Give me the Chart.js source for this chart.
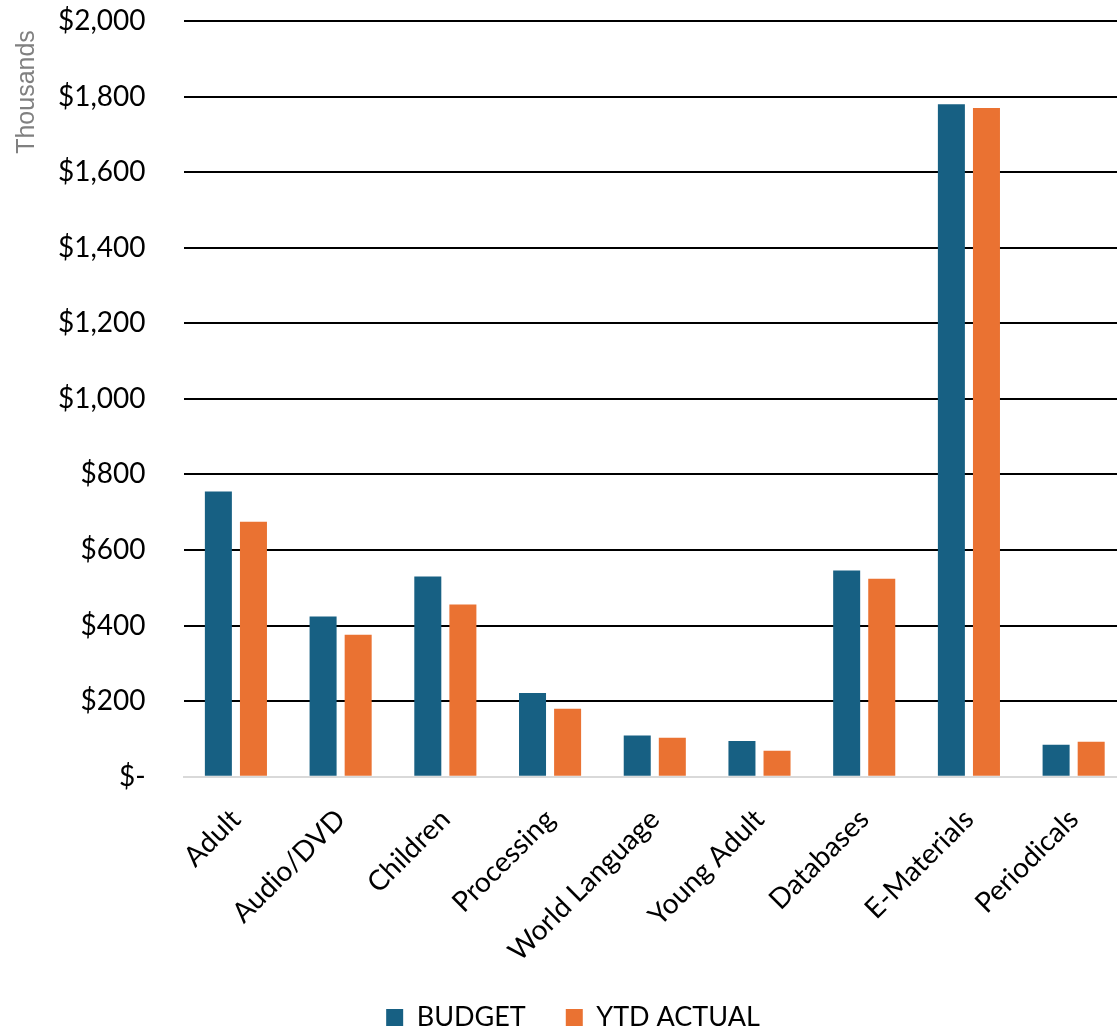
<!DOCTYPE html>
<html>
<head>
<meta charset="utf-8">
<script src="https://cdn.jsdelivr.net/npm/chart.js@4.4.1/dist/chart.umd.min.js"></script>
<style>
  html, body { margin: 0; padding: 0; background: #fff; overflow: hidden; }
  #wrap { width: 1126px; height: 1032px; }
</style>
</head>
<body>
<div id="wrap"><canvas id="budgetChart"></canvas></div>
<script>
/* collection budget vs ytd actual (thousands) */

const categories = ["Adult", "Audio/DVD", "Children", "Processing", "World Language",
  "Young Adult", "Databases", "E-Materials", "Periodicals"];
const budget = [755, 424, 530, 222, 109, 95, 546, 1780, 85];
const ytdActual = [675, 376, 456, 180, 103, 69, 524, 1770, 93];
const yTicks = [0, 200, 400, 600, 800, 1000, 1200, 1400, 1600, 1800, 2000];

const FONT = "Lato, 'Open Sans', sans-serif";
const LEGEND_GAP = 40;

// "Thousands" label sits near the top of the value axis
const unitLabel = {
  id: "unitLabel",
  afterDraw(chart) {
    const ctx = chart.ctx;
    ctx.save();
    ctx.translate(27, chart.chartArea.top + 71);
    ctx.rotate(-Math.PI / 2);
    ctx.font = "25px 'Liberation Sans', Arial, sans-serif";
    ctx.fillStyle = "#808080";
    ctx.textAlign = "center";
    ctx.textBaseline = "middle";
    ctx.fillText("Thousands", 0, 0);
    ctx.restore();
  }
};

// legend padding also sets the gap between items, so shrink the box afterwards
const legendFix = {
  id: "legendFix",
  beforeInit(chart) {
    const fit = chart.legend.fit;
    chart.legend.fit = function () {
      fit.call(this);
      this.height = 38;
    };
  },
  afterLayout(chart) {
    chart.legend.top -= 30;   // bottom stays put so the clip keeps the text
  }
};

new Chart(document.getElementById("budgetChart"), {
  type: "bar",
  data: {
    labels: categories,
    datasets: [
      {
        label: "BUDGET",
        data: budget,
        backgroundColor: "#176083",
        categoryPercentage: 0.67,
        barPercentage: 0.77
      },
      {
        label: "YTD ACTUAL",
        data: ytdActual,
        backgroundColor: "#EA7232",
        categoryPercentage: 0.67,
        barPercentage: 0.77
      }
    ]
  },
  options: {
    responsive: true,
    maintainAspectRatio: false,
    animation: false,
    layout: { padding: { top: 0, left: 20, right: 0, bottom: 0 } },
    plugins: {
      tooltip: { enabled: false },
      legend: {
        position: "bottom",
        labels: {
          font: { family: FONT, size: 27 },
          color: "#000",
          boxWidth: 17,
          boxHeight: 17,
          padding: LEGEND_GAP
        }
      }
    },
    scales: {
      x: {
        grid: { display: false, drawTicks: false },
        border: { color: "#d9d9d9", width: 2 },
        ticks: {
          font: { family: FONT, size: 28 },
          color: "#000",
          maxRotation: 45,
          minRotation: 45,
          padding: 26
        }
      },
      y: {
        min: 0,
        max: 2000,
        afterBuildTicks(axis) {
          axis.ticks = yTicks.map(v => ({ value: v }));
        },
        afterFit(axis) {
          axis.paddingTop = 21;
          axis.paddingBottom = 0;
        },
        grid: {
          color: "#000",
          lineWidth: 2,
          drawTicks: false
        },
        border: { display: false },
        ticks: {
          font: { family: FONT, size: 28 },
          color: "#000",
          padding: 38,
          callback: v => v === 0 ? "$-" : "$" + v.toLocaleString("en-US")
        }
      }
    }
  },
  plugins: [unitLabel, legendFix]
});
</script>
</body>
</html>
